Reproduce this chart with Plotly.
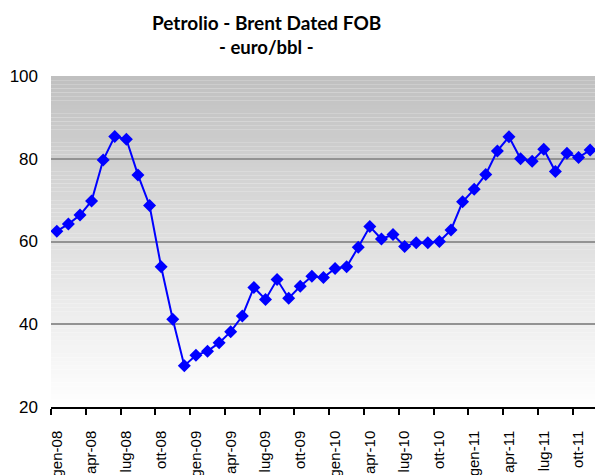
import plotly.graph_objects as go

months = ["gen", "feb", "mar", "apr", "mag", "giu", "lug", "ago", "set", "ott", "nov", "dic"]
years = ["08", "09", "10", "11"]
categories = [f"{m}-{y}" for y in years for m in months]

brent_eur = [62.5, 64.2, 66.4, 69.8, 79.7, 85.4, 84.7, 76.1, 68.7, 53.9, 41.2, 30.0,
             32.5, 33.5, 35.5, 38.2, 42.0, 48.9, 46.0, 50.8, 46.3, 49.2, 51.6, 51.3,
             53.5, 53.9, 58.6, 63.6, 60.6, 61.7, 58.8, 59.7, 59.7, 60.0, 62.8, 69.6,
             72.6, 76.2, 81.9, 85.3, 80.0, 79.4, 82.3, 76.9, 81.3, 80.3, 82.1, 82.5]

y_ticks = [20, 40, 60, 80, 100]

x_idx = list(range(len(categories)))
label_idx = x_idx[::3]
label_txt = [categories[i] for i in label_idx]

fig = go.Figure()
fig.add_trace(go.Scatter(
    x=x_idx, y=brent_eur, mode="lines+markers",
    line=dict(color="#0000FF", width=2),
    marker=dict(symbol="diamond", size=10, color="#0000FF"),
    showlegend=False, hoverinfo="y"))

# gradient background bands
shapes = []
nb = 80
for i in range(nb):
    y0 = 20 + 80 * i / nb
    y1 = 20 + 80 * (i + 1) / nb
    t = (i + 0.5) / nb
    g = int(round(255 - 63 * t))
    shapes.append(dict(type="rect", xref="paper", yref="y", x0=0, x1=1, y0=y0, y1=y1,
                       fillcolor=f"rgb({g},{g},{g})", line=dict(width=0), layer="below"))

# page body has an 8px margin, so the figure is sized/offset to compensate
fig.update_layout(
    width=595, height=467,
    margin=dict(l=43, r=0, t=68, b=68, autoexpand=False),
    paper_bgcolor="white", plot_bgcolor="white",
    shapes=shapes,
    annotations=[
        dict(text="<b>Petrolio - Brent Dated FOB</b>", xref="paper", yref="paper",
             x=0.390, y=1, yshift=54, xanchor="center", yanchor="middle", showarrow=False,
             font=dict(family="Lato", size=19, color="black")),
        dict(text="<b>- euro/bbl -</b>", xref="paper", yref="paper",
             x=0.390, y=1, yshift=29, xanchor="center", yanchor="middle", showarrow=False,
             font=dict(family="Lato", size=18.5, color="black")),
    ],
    xaxis=dict(range=[-0.5, 47.11], tickmode="array", tickvals=label_idx, ticktext=label_txt,
               tickangle=-90, ticks="", showgrid=False, zeroline=False, automargin=False,
               showline=True, linecolor="black", linewidth=1.5,
               ticklabelstandoff=16,
               tickfont=dict(family="Liberation Sans", size=15, color="black"),
               minor=dict(tickmode="linear", tick0=-0.5, dtick=3, ticks="outside",
                          ticklen=6, tickcolor="black", tickwidth=1.5, showgrid=False)),
    yaxis=dict(range=[20, 100], tickmode="array", tickvals=y_ticks, ticks="",
               showgrid=True, gridcolor="#939393", gridwidth=1.5, zeroline=False,
               showline=False, ticklabelstandoff=12, automargin=False,
               tickfont=dict(family="Liberation Sans", size=17, color="black")),
)

fig.write_html("out.html")
